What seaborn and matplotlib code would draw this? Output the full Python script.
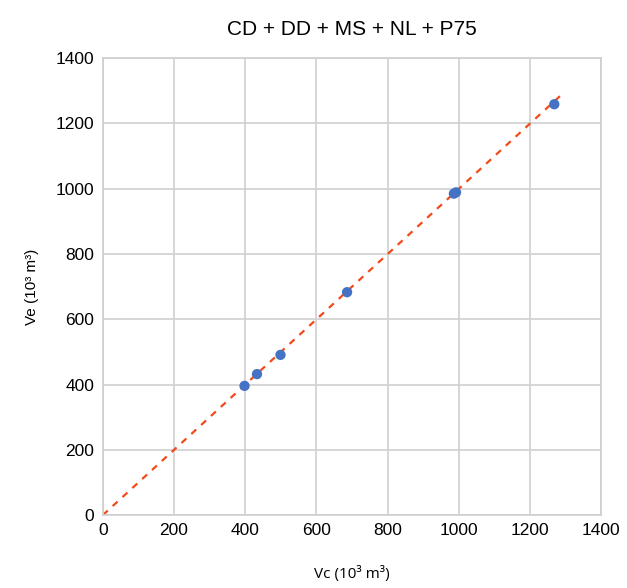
import numpy as np
import pandas as pd
import seaborn as sns
import matplotlib.pyplot as plt

# valores (10^3 m3)
vc = [398, 433, 499, 686, 986, 992, 1268]
ve = [396, 432, 491, 683, 985, 989, 1259]
linea_x = [0, 1285]
linea_y = [0, 1285]

df = pd.DataFrame({"Vc": vc, "Ve": ve})

sns.set_theme(style="whitegrid")
plt.rcParams['font.family'] = ['Liberation Sans', 'DejaVu Sans']

fig = plt.figure(figsize=(6.27, 5.88), dpi=100)
ax = fig.add_axes([0.164, 0.124, 0.795, 0.777])

ax.plot(linea_x, linea_y, linestyle="--", color="#F24A1A", linewidth=1.6, dashes=(3, 3), zorder=2)
sns.scatterplot(data=df, x="Vc", y="Ve", color="#4472C4", s=55, edgecolor="none", zorder=3, ax=ax)

ax.set_xlim(0, 1400)
ax.set_ylim(0, 1400)
ax.set_xticks(range(0, 1401, 200))
ax.set_yticks(range(0, 1401, 200))
ax.grid(True, color="#D0D0D0", linewidth=1.2)
for s in ax.spines.values():
    s.set_color("#D0D0D0")
ax.tick_params(axis="both", labelsize=12.5, length=0, pad=6, colors="black")

ax.set_xlabel("Vc (10³ m³)", fontsize=11, labelpad=20, color="black",
              family=["Open Sans", "DejaVu Sans"])
ax.set_ylabel("Ve (10³ m³)", fontsize=11, labelpad=12, color="black")
ax.set_title("CD + DD + MS + NL + P75", fontsize=15, pad=17, color="black")

fig.savefig("out.png", dpi=100)
